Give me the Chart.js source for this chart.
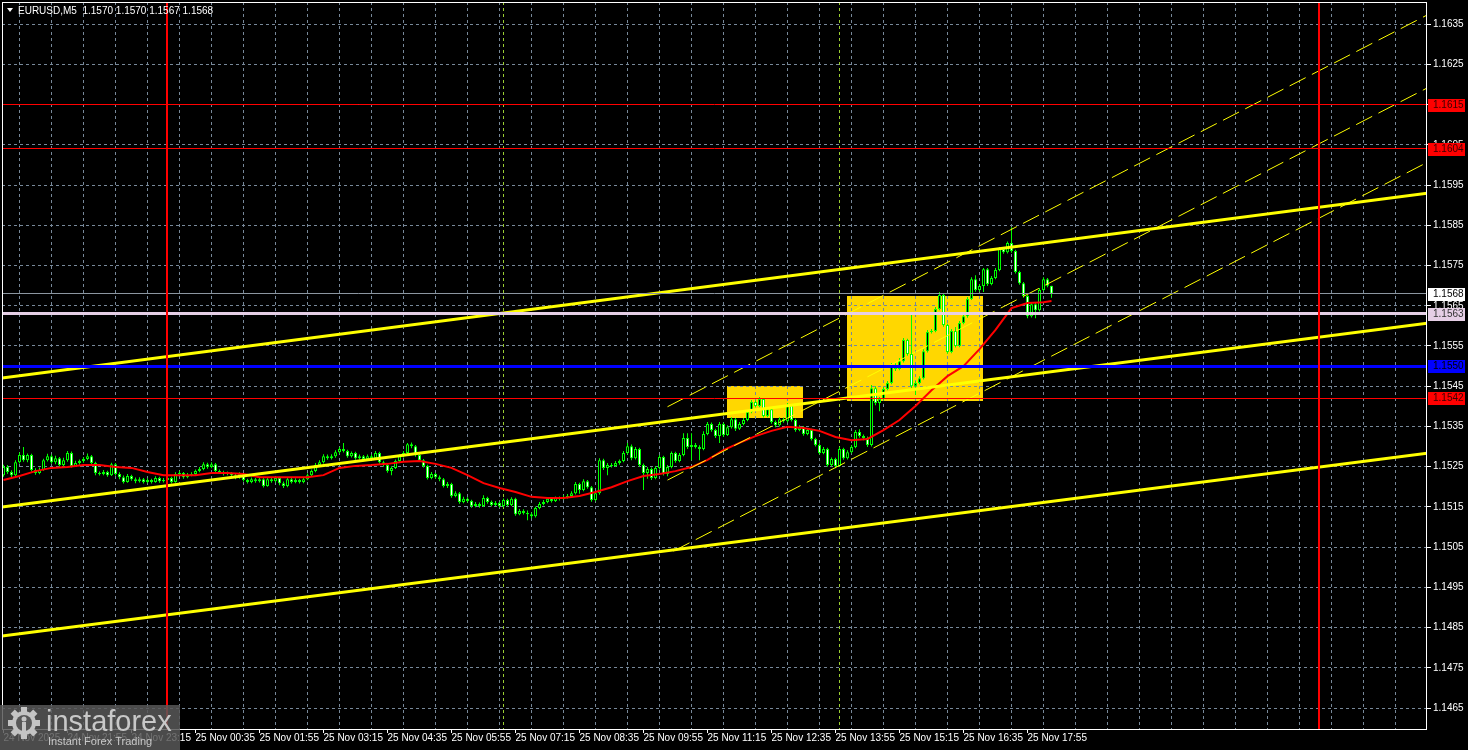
<!DOCTYPE html>
<html><head><meta charset="utf-8">
<script src="https://cdn.jsdelivr.net/npm/chart.js@4.4.0/dist/chart.umd.min.js"></script>
<style>html,body{margin:0;padding:0;background:#000;overflow:hidden}canvas{display:block}</style>
</head><body>
<canvas id="c" width="1468" height="750"></canvas>
<script>
// ---------- DATA ----------
const symbolTitle = 'EURUSD,M5';
const firstOpen = 1.15229;
const closes = [
1.15249,1.15237,1.15229,1.15261,1.15279,1.15266,1.15279,1.15242,1.15234,1.15242,
1.15266,1.15276,1.15261,1.15271,1.15254,1.15266,1.15284,1.15252,1.15259,1.15264,
1.15269,1.15276,1.15259,1.15234,1.15232,1.15237,1.15229,1.15256,1.15232,1.15224,
1.15212,1.15227,1.15219,1.15214,1.15219,1.15212,1.15217,1.15212,1.15222,1.15214,
1.15217,1.15222,1.15212,1.15232,1.15234,1.15224,1.15229,1.15232,1.15239,1.15244,
1.15256,1.15249,1.15256,1.15239,1.15237,1.15232,1.15234,1.15229,1.15224,1.15232,
1.15217,1.15212,1.15219,1.15214,1.15219,1.15202,1.15219,1.15214,1.15222,1.15209,
1.15202,1.15219,1.15212,1.15217,1.15212,1.15219,1.15229,1.15239,1.15254,1.15261,
1.15276,1.15271,1.15276,1.15286,1.15294,1.15289,1.15276,1.15284,1.15271,1.15276,
1.15269,1.15276,1.15271,1.15284,1.15261,1.15254,1.15239,1.15247,1.15264,1.15276,
1.15284,1.15306,1.15301,1.15279,1.15266,1.15252,1.15222,1.15232,1.15224,1.15219,
1.15202,1.15207,1.15177,1.15184,1.15162,1.15170,1.15165,1.15152,1.15157,1.15152,
1.15172,1.15162,1.15155,1.15160,1.15152,1.15167,1.15155,1.15170,1.15132,1.15140,
1.15135,1.15132,1.15127,1.15147,1.15157,1.15162,1.15170,1.15165,1.15172,1.15170,
1.15174,1.15177,1.15184,1.15207,1.15192,1.15214,1.15199,1.15167,1.15184,1.15266,
1.15247,1.15254,1.15252,1.15259,1.15264,1.15284,1.15301,1.15271,1.15294,1.15254,
1.15234,1.15244,1.15222,1.15247,1.15274,1.15232,1.15249,1.15284,1.15264,1.15279,
1.15321,1.15299,1.15304,1.15299,1.15294,1.15331,1.15356,1.15341,1.15326,1.15356,
1.15329,1.15348,1.15368,1.15344,1.15356,1.15366,1.15386,1.15411,1.15401,1.15418,
1.15376,1.15393,1.15361,1.15353,1.15368,1.15363,1.15403,1.15366,1.15341,1.15348,
1.15331,1.15341,1.15319,1.15304,1.15284,1.15294,1.15254,1.15269,1.15252,1.15294,
1.15271,1.15286,1.15299,1.15336,1.15326,1.15321,1.15304,1.15445,1.15408,1.15418,
1.15443,1.15458,1.15503,1.15493,1.15512,1.15565,1.15530,1.15450,1.15458,1.15470,
1.15537,1.15585,1.15587,1.15642,1.15677,1.15602,1.15535,1.15587,1.15550,1.15607,
1.15624,1.15667,1.15716,1.15689,1.15699,1.15741,1.15704,1.15719,1.15739,1.15791,
1.15783,1.15806,1.15786,1.15734,1.15706,1.15674,1.15624,1.15654,1.15639,1.15689,
1.15716,1.15700,1.15680];
const highs = [
1.15255,1.15254,1.15241,1.15266,1.15285,1.15299,1.15283,1.15282,1.15246,1.15248,
1.15270,1.15282,1.15280,1.15277,1.15274,1.15272,1.15289,1.15288,1.15265,1.15268,
1.15274,1.15283,1.15279,1.15262,1.15238,1.15242,1.15240,1.15260,1.15259,1.15236,
1.15228,1.15232,1.15230,1.15223,1.15224,1.15222,1.15221,1.15220,1.15226,1.15225,
1.15222,1.15226,1.15225,1.15236,1.15240,1.15237,1.15234,1.15236,1.15243,1.15249,
1.15261,1.15260,1.15261,1.15259,1.15243,1.15240,1.15238,1.15237,1.15233,1.15236,
1.15234,1.15220,1.15223,1.15222,1.15224,1.15223,1.15223,1.15224,1.15226,1.15225,
1.15213,1.15223,1.15222,1.15221,1.15220,1.15223,1.15233,1.15243,1.15259,1.15266,
1.15281,1.15280,1.15281,1.15291,1.15299,1.15309,1.15292,1.15288,1.15287,1.15280,
1.15279,1.15280,1.15280,1.15289,1.15287,1.15265,1.15257,1.15251,1.15268,1.15280,
1.15289,1.15309,1.15310,1.15304,1.15282,1.15269,1.15255,1.15237,1.15235,1.15228,
1.15222,1.15212,1.15210,1.15189,1.15187,1.15175,1.15174,1.15168,1.15162,1.15161,
1.15179,1.15175,1.15166,1.15165,1.15163,1.15171,1.15170,1.15174,1.15173,1.15145,
1.15144,1.15141,1.15136,1.15151,1.15162,1.15167,1.15174,1.15174,1.15176,1.15176,
1.15179,1.15182,1.15189,1.15212,1.15210,1.15219,1.15217,1.15202,1.15189,1.15271,
1.15270,1.15259,1.15259,1.15264,1.15268,1.15289,1.15309,1.15305,1.15299,1.15297,
1.15258,1.15249,1.15248,1.15252,1.15279,1.15277,1.15254,1.15288,1.15287,1.15284,
1.15333,1.15333,1.15333,1.15309,1.15303,1.15338,1.15361,1.15360,1.15344,1.15361,
1.15360,1.15353,1.15373,1.15371,1.15361,1.15371,1.15391,1.15416,1.15415,1.15423,
1.15421,1.15398,1.15396,1.15365,1.15373,1.15372,1.15408,1.15406,1.15369,1.15353,
1.15351,1.15346,1.15344,1.15322,1.15308,1.15299,1.15297,1.15273,1.15272,1.15299,
1.15297,1.15291,1.15304,1.15341,1.15343,1.15330,1.15325,1.15453,1.15450,1.15423,
1.15448,1.15463,1.15508,1.15507,1.15520,1.15570,1.15568,1.15627,1.15463,1.15475,
1.15542,1.15590,1.15592,1.15647,1.15684,1.15680,1.15605,1.15592,1.15597,1.15612,
1.15629,1.15672,1.15721,1.15726,1.15704,1.15744,1.15744,1.15724,1.15744,1.15796,
1.15795,1.15810,1.15845,1.15789,1.15737,1.15709,1.15677,1.15659,1.15657,1.15694,
1.15721,1.15719,1.15700];
const lows = [
1.15225,1.15232,1.15224,1.15227,1.15258,1.15262,1.15261,1.15238,1.15230,1.15231,
1.15240,1.15263,1.15257,1.15256,1.15250,1.15248,1.15262,1.15248,1.15249,1.15255,
1.15260,1.15266,1.15255,1.15229,1.15228,1.15229,1.15225,1.15227,1.15228,1.15219,
1.15208,1.15210,1.15215,1.15209,1.15211,1.15208,1.15209,1.15208,1.15210,1.15210,
1.15211,1.15212,1.15208,1.15210,1.15229,1.15220,1.15221,1.15226,1.15229,1.15236,
1.15241,1.15245,1.15246,1.15235,1.15232,1.15228,1.15229,1.15224,1.15219,1.15220,
1.15213,1.15208,1.15209,1.15210,1.15211,1.15198,1.15200,1.15210,1.15211,1.15204,
1.15197,1.15199,1.15208,1.15209,1.15208,1.15209,1.15216,1.15226,1.15236,1.15250,
1.15258,1.15267,1.15268,1.15272,1.15282,1.15285,1.15272,1.15273,1.15267,1.15268,
1.15265,1.15266,1.15267,1.15269,1.15257,1.15250,1.15235,1.15229,1.15244,1.15261,
1.15273,1.15281,1.15296,1.15275,1.15262,1.15248,1.15218,1.15219,1.15220,1.15214,
1.15198,1.15197,1.15173,1.15174,1.15158,1.15159,1.15161,1.15148,1.15149,1.15148,
1.15150,1.15158,1.15151,1.15152,1.15148,1.15149,1.15151,1.15152,1.15128,1.15129,
1.15131,1.15117,1.15122,1.15124,1.15144,1.15154,1.15159,1.15161,1.15162,1.15166,
1.15167,1.15171,1.15174,1.15181,1.15183,1.15189,1.15195,1.15163,1.15164,1.15180,
1.15242,1.15229,1.15248,1.15249,1.15255,1.15261,1.15280,1.15266,1.15268,1.15250,
1.15192,1.15220,1.15217,1.15219,1.15243,1.15228,1.15226,1.15246,1.15260,1.15261,
1.15276,1.15294,1.15266,1.15295,1.15266,1.15291,1.15328,1.15337,1.15321,1.15309,
1.15324,1.15326,1.15345,1.15339,1.15341,1.15353,1.15363,1.15383,1.15397,1.15398,
1.15372,1.15373,1.15357,1.15348,1.15350,1.15359,1.15360,1.15362,1.15337,1.15338,
1.15327,1.15328,1.15315,1.15300,1.15280,1.15281,1.15250,1.15251,1.15246,1.15249,
1.15267,1.15268,1.15283,1.15296,1.15322,1.15316,1.15299,1.15300,1.15403,1.15388,
1.15415,1.15440,1.15455,1.15488,1.15490,1.15509,1.15526,1.15445,1.15428,1.15455,
1.15467,1.15534,1.15581,1.15584,1.15639,1.15598,1.15531,1.15532,1.15546,1.15547,
1.15604,1.15620,1.15664,1.15685,1.15685,1.15684,1.15699,1.15701,1.15716,1.15736,
1.15779,1.15780,1.15782,1.15730,1.15702,1.15670,1.15619,1.15621,1.15619,1.15636,
1.15686,1.15696,1.15670];

// moving average (red), read every 4 bars
const maBars = [0,4,8,12,16,20,24,28,32,36,40,44,48,52,56,60,64,68,72,76,80,84,88,92,96,100,
104,108,112,116,120,124,128,132,136,140,144,148,152,156,160,164,168,172,176,180,184,188,192,196,
200,204,208,212,216,220,224,228,232,236,240,244,248,252,256,260,262];
const maValues = [1.15217,1.15227,1.15239,1.15247,1.15249,1.15254,1.15254,1.15249,1.15247,1.15237,
1.15229,1.15229,1.15229,1.15234,1.15234,1.15232,1.15224,1.15224,1.15224,1.15224,
1.15229,1.15247,1.15252,1.15254,1.15257,1.15262,1.15264,1.15257,1.15247,1.15229,
1.15209,1.15197,1.15187,1.15175,1.15172,1.15172,1.15177,1.15187,1.15199,1.15214,
1.15227,1.15232,1.15239,1.15249,1.15267,1.15291,1.15309,1.15326,1.15339,1.15349,
1.15346,1.15339,1.15324,1.15316,1.15319,1.15341,1.15366,1.15401,1.15440,1.15475,
1.15500,1.15542,1.15590,1.15644,1.15657,1.15659,1.15662];

// axis labels
const timeLabelBars = [0,16,32,48,64,80,96,112,128,144,160,176,192,208,224,240,256];
const timeLabels = ['24 Nov 2025','24 Nov 21:55','24 Nov 23:15','25 Nov 00:35','25 Nov 01:55',
'25 Nov 03:15','25 Nov 04:35','25 Nov 05:55','25 Nov 07:15','25 Nov 08:35','25 Nov 09:55',
'25 Nov 11:15','25 Nov 12:35','25 Nov 13:55','25 Nov 15:15','25 Nov 16:35','25 Nov 17:55'];
const priceTicks = [1.1465,1.1475,1.1485,1.1495,1.1505,1.1515,1.1525,1.1535,1.1545,1.1555,
1.1565,1.1575,1.1585,1.1595,1.1605,1.1615,1.1625,1.1635];

// yellow trend channel (bar, price)
const trendBars = [-0.375, 356.125];
const trendUpper = [1.154702, 1.159300];
const trendMiddle = [1.151496, 1.156069];
const trendLower = [1.148289, 1.152838];
// thin dashed channel
const dashTopBars = [166, 356],   dashTop = [1.153990, 1.163731];
const dashMidBars = [166, 356],   dashMid = [1.152167, 1.161917];
const dashLowBars = [167.5, 356], dashLow = [1.150402, 1.160068];

// rectangles
const boxStart = [180.875, 210.875];
const boxEnd = [199.875, 244.875];
const boxTop = [1.154503, 1.156740];
const boxBottom = [1.153708, 1.154130];

// horizontal levels
const redLevels = [1.1615, 1.1604, 1.1542];
const bidLevel = 1.1568;
const pinkLevel = 1.1563;
const blueLevel = 1.1550;
// vertical lines
const dayLines = [41, 329];
const sessionLines = [125, 209];

// ---------- CHART ----------
const FONT = '"Liberation Sans", Arial, sans-serif';
const opens = closes.map((c, i) => i === 0 ? firstOpen : closes[i - 1]);
const wickData = highs.map((h, i) => ({x: i, y: [lows[i], h]}));
const bodyData = closes.map((c, i) => ({x: i, y: [Math.min(opens[i], c), Math.max(opens[i], c)]}));
const pts = (bars, vals) => bars.map((b, i) => ({x: b, y: vals[i]}));
const gridBars = [];
for (let b = 0; b <= 352; b += 8) gridBars.push(b);

const lineDs = (label, data, color, width, dash, order) => ({
  type: 'line', label, data, borderColor: color, borderWidth: width, borderDash: dash || [],
  pointRadius: 0, tension: 0, fill: false, order
});

const zeroPad = s => { s.paddingTop = 0; s.paddingBottom = 0; s.paddingLeft = 0; s.paddingRight = 0; };

const underlay = {
  id: 'underlay',
  beforeDraw(chart) {
    const c = chart.ctx, xs = chart.scales.x, ys = chart.scales.y;
    c.save();
    c.fillStyle = '#000';
    c.fillRect(0, 0, chart.width, chart.height);
    c.fillStyle = '#FFD700';
    for (let i = 0; i < boxStart.length; i++) {
      const x1 = Math.round(xs.getPixelForValue(boxStart[i]));
      const x2 = Math.round(xs.getPixelForValue(boxEnd[i]));
      const y1 = Math.round(ys.getPixelForValue(boxTop[i]));
      const y2 = Math.round(ys.getPixelForValue(boxBottom[i]));
      c.fillRect(x1, y1, x2 - x1, y2 - y1);
    }
    c.restore();
  },
  beforeDatasetsDraw(chart) {
    const c = chart.ctx, xs = chart.scales.x, a = chart.chartArea;
    c.save();
    c.strokeStyle = '#9ACD32';
    c.lineWidth = 1;
    c.setLineDash([3, 3]);
    sessionLines.forEach(b => {
      const px = Math.floor(xs.getPixelForValue(b)) + 0.5;
      c.beginPath(); c.moveTo(px, a.top); c.lineTo(px, a.bottom); c.stroke();
    });
    c.restore();
  }
};

const overlay = {
  id: 'overlay',
  afterDatasetsDraw(chart) {
    const c = chart.ctx, xs = chart.scales.x, ys = chart.scales.y, a = chart.chartArea;
    c.save();
    c.beginPath(); c.rect(a.left, a.top, a.right - a.left, a.bottom - a.top); c.clip();
    const hline = (v, color, w) => {
      const py = ys.getPixelForValue(v);
      const y = w % 2 ? Math.floor(py) + 0.5 : Math.round(py);
      c.strokeStyle = color; c.lineWidth = w;
      c.beginPath(); c.moveTo(a.left, y); c.lineTo(a.right, y); c.stroke();
    };
    redLevels.forEach(v => hline(v, '#FF0000', 1));
    hline(bidLevel, '#8C96A0', 1);
    hline(pinkLevel, '#E6CFE6', 3);
    hline(blueLevel, '#0000FF', 3);
    c.strokeStyle = '#FF0000'; c.lineWidth = 2;
    dayLines.forEach(b => {
      const px = Math.floor(xs.getPixelForValue(b));
      c.beginPath(); c.moveTo(px, a.top); c.lineTo(px, a.bottom); c.stroke();
    });
    c.restore();
    // frame
    c.save();
    c.strokeStyle = '#FFFFFF'; c.lineWidth = 1;
    c.strokeRect(a.left + 0.5, a.top + 0.5, a.right - a.left - 1, a.bottom - a.top);
    c.restore();
  },
  afterDraw(chart) {
    const c = chart.ctx, xs = chart.scales.x, ys = chart.scales.y, a = chart.chartArea;
    c.save();
    // tick marks
    c.strokeStyle = '#FFFFFF'; c.lineWidth = 1;
    timeLabelBars.forEach(b => {
      const px = Math.floor(xs.getPixelForValue(b)) + 0.5;
      c.beginPath(); c.moveTo(px, a.bottom); c.lineTo(px, a.bottom + 4); c.stroke();
    });
    priceTicks.forEach(v => {
      const py = Math.floor(ys.getPixelForValue(v)) + 0.5;
      c.beginPath(); c.moveTo(a.right, py); c.lineTo(a.right + 4, py); c.stroke();
    });
    // price tags
    c.font = '10px ' + FONT;
    c.textBaseline = 'middle';
    c.textAlign = 'left';
    const tag = (v, bg, fg) => {
      const py = Math.round(ys.getPixelForValue(v));
      c.fillStyle = bg; c.fillRect(a.right + 1, py - 6, 37, 13);
      c.fillStyle = fg; c.fillText(v.toFixed(4), a.right + 6, py + 0.5);
    };
    tag(bidLevel, '#FFFFFF', '#000000');
    tag(pinkLevel, '#E6CFE6', '#333333');
    tag(blueLevel, '#0000FF', '#000000');
    redLevels.forEach(v => tag(v, '#FF0000', '#3a0000'));
    // header
    const n = closes.length - 1;
    c.fillStyle = '#FFFFFF';
    c.beginPath(); c.moveTo(7, 8); c.lineTo(13, 8); c.lineTo(10, 12); c.closePath(); c.fill();
    c.font = '10px ' + FONT;
    c.fillText(symbolTitle + '  ' + [opens[n], highs[n], lows[n], closes[n]].map(v => v.toFixed(4)).join(' '), 18, 11);
    // logo
    c.fillStyle = 'rgba(88,88,88,0.85)';
    c.fillRect(0, 705, 180, 45);
    const gx = 24, gy = 723;
    c.fillStyle = '#C4C4C4';
    c.beginPath(); c.arc(gx, gy, 12, 0, Math.PI * 2); c.fill();
    for (let k = 0; k < 8; k++) {
      c.save(); c.translate(gx, gy); c.rotate(k * Math.PI / 4);
      c.fillRect(-3, -16, 6, 6); c.restore();
    }
    c.fillStyle = '#585858';
    c.beginPath(); c.arc(gx, gy, 8, 0, Math.PI * 2); c.fill();
    c.fillStyle = '#C4C4C4';
    c.beginPath(); c.arc(gx, gy - 4, 2.5, 0, Math.PI * 2); c.fill();
    c.fillRect(gx - 2, gy - 1, 4, 9);
    c.font = '29px ' + FONT;
    c.textBaseline = 'alphabetic';
    c.fillStyle = '#C8C8C8';
    c.fillText('instaforex', 46, 731);
    c.font = '11px ' + FONT;
    c.fillText('Instant Forex Trading', 48, 745);
    c.restore();
  }
};

new Chart(document.getElementById('c'), {
  type: 'bar',
  data: {
    datasets: [
      lineDs('Trend upper', pts(trendBars, trendUpper), '#FFFF00', 3, null, 1),
      lineDs('Trend middle', pts(trendBars, trendMiddle), '#FFFF00', 3, null, 1),
      lineDs('Trend lower', pts(trendBars, trendLower), '#FFFF00', 3, null, 1),
      lineDs('Channel top', pts(dashTopBars, dashTop), '#FFFF00', 1, [18, 7], 2),
      lineDs('Channel mid', pts(dashMidBars, dashMid), '#FFFF00', 1, [18, 7], 2),
      lineDs('Channel low', pts(dashLowBars, dashLow), '#FFFF00', 1, [18, 7], 2),
      lineDs('MA', pts(maBars, maValues), '#FF0000', 2, null, 3),
      {
        type: 'bar', label: 'Bodies', data: bodyData, barThickness: 3, borderWidth: 1,
        borderColor: '#00FF00', borderSkipped: false, minBarLength: 1, grouped: false, inflateAmount: 0,
        backgroundColor: ctx => closes[ctx.dataIndex] > opens[ctx.dataIndex] ? '#000000' : '#FFFFFF',
        order: 5
      },
      {
        type: 'bar', label: 'Wicks', data: wickData, barThickness: 1, borderWidth: 0,
        backgroundColor: '#00FF00', grouped: false, inflateAmount: 0, order: 6
      }
    ]
  },
  options: {
    responsive: false, animation: false, devicePixelRatio: 1,
    layout: {padding: {left: 2, top: 2, right: 0, bottom: 0}},
    plugins: {legend: {display: false}, tooltip: {enabled: false}},
    scales: {
      x: {
        type: 'linear', min: -0.375, max: 355.875, offset: false, bounds: 'data',
        afterBuildTicks: s => { s.ticks = gridBars.map(v => ({value: v})); },
        afterFit: s => { s.height = 21; zeroPad(s); },
        ticks: {
          autoSkip: false, maxRotation: 0, minRotation: 0, align: 'start', color: '#FFFFFF', padding: 3,
          font: {family: FONT, size: 10},
          callback: v => { const k = timeLabelBars.indexOf(v); return k >= 0 ? timeLabels[k] : ''; }
        },
        grid: {color: '#778899', lineWidth: 1, drawTicks: false},
        border: {display: false, dash: [3, 3]}
      },
      y: {
        position: 'right', min: 1.14598, max: 1.16405, bounds: 'data',
        afterBuildTicks: s => { s.ticks = priceTicks.map(v => ({value: v})); },
        afterFit: s => { s.width = 41; zeroPad(s); },
        ticks: {color: '#FFFFFF', padding: 6, font: {family: FONT, size: 10}, callback: v => Number(v).toFixed(4)},
        grid: {color: '#778899', lineWidth: 1, drawTicks: false},
        border: {display: false, dash: [3, 3]}
      }
    }
  },
  plugins: [underlay, overlay]
});
</script>
</body></html>
